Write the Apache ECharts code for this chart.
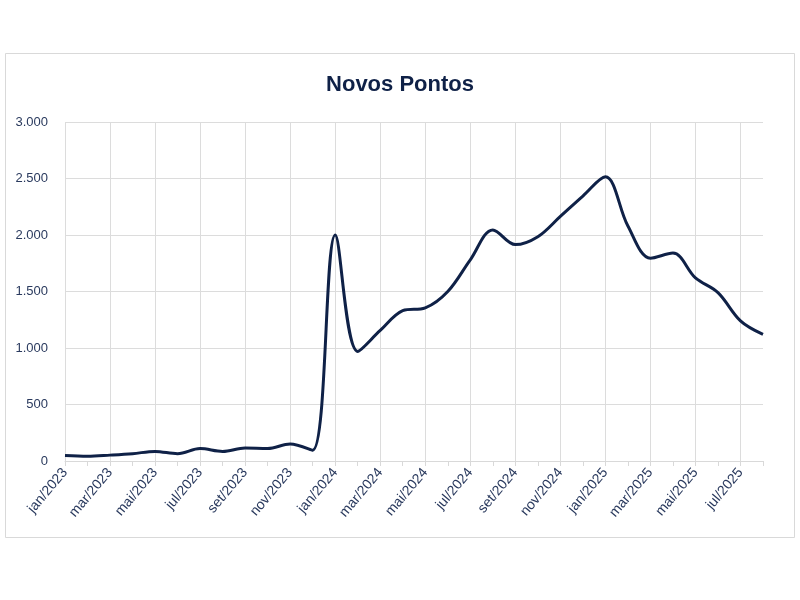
<!DOCTYPE html>
<html>
<head>
<meta charset="utf-8">
<script src="https://cdn.jsdelivr.net/npm/echarts@6/dist/echarts.min.js"></script>
<style>html,body{margin:0;padding:0;background:#fff}#c{width:800px;height:600px}</style>
</head>
<body>
<div id="c"></div>
<script>
var categories = ["jan/2023","fev/2023","mar/2023","abr/2023","mai/2023","jun/2023","jul/2023","ago/2023","set/2023","out/2023","nov/2023","dez/2023",
  "jan/2024","fev/2024","mar/2024","abr/2024","mai/2024","jun/2024","jul/2024","ago/2024","set/2024","out/2024","nov/2024","dez/2024",
  "jan/2025","fev/2025","mar/2025","abr/2025","mai/2025","jun/2025","jul/2025","ago/2025"];
var novosPontos = [48, 42, 52, 65, 85, 65, 110, 85, 115, 110, 150, 95,
  2000, 970, 1155, 1330, 1355, 1500, 1780, 2045, 1915, 1985, 2165, 2345,
  2515, 2080, 1795, 1840, 1620, 1490, 1240, 1120];
var yTicks = [0, 500, 1000, 1500, 2000, 2500, 3000];

var navy = '#0f2147';
var font = '"Liberation Sans", Arial, sans-serif';
var chart = echarts.init(document.getElementById('c'), null, {renderer: 'canvas'});
chart.setOption({
  animation: false,
  backgroundColor: '#fff',
  graphic: [{
    type: 'rect', shape: {x: 5.5, y: 53.5, width: 789, height: 484},
    style: {fill: 'none', stroke: '#d9d9d9', lineWidth: 1}, silent: true
  }],
  title: {
    text: 'Novos Pontos', left: 'center', top: 69,
    textStyle: {fontFamily: font, fontWeight: 'bold', fontSize: 22, color: navy}
  },
  grid: {left: 65, right: 37, top: 122, bottom: 139},
  xAxis: {
    type: 'category', data: categories, boundaryGap: false,
    axisLine: {lineStyle: {color: '#d9d9d9', width: 1}},
    axisTick: {show: true, interval: 0, length: 5, lineStyle: {color: '#d9d9d9'}},
    axisLabel: {interval: 1, rotate: 50, fontFamily: font, fontSize: 14, color: '#2a3a5e', margin: 9},
    splitLine: {show: true, interval: 1, lineStyle: {color: '#dcdcdc', width: 1}}
  },
  yAxis: {
    type: 'value', min: yTicks[0], max: yTicks[yTicks.length - 1], interval: 500,
    axisLine: {show: false}, axisTick: {show: false},
    axisLabel: {
      fontFamily: font, fontSize: 13, color: '#2a3a5e', margin: 17,
      formatter: function (v) { return v.toString().replace(/\B(?=(\d{3})+(?!\d))/g, '.'); }
    },
    splitLine: {lineStyle: {color: '#dcdcdc', width: 1}}
  },
  series: [{
    type: 'line', name: 'Novos Pontos', data: novosPontos, smooth: 0.35,
    symbol: 'none', lineStyle: {color: navy, width: 3}
  }]
});
</script>
</body>
</html>
